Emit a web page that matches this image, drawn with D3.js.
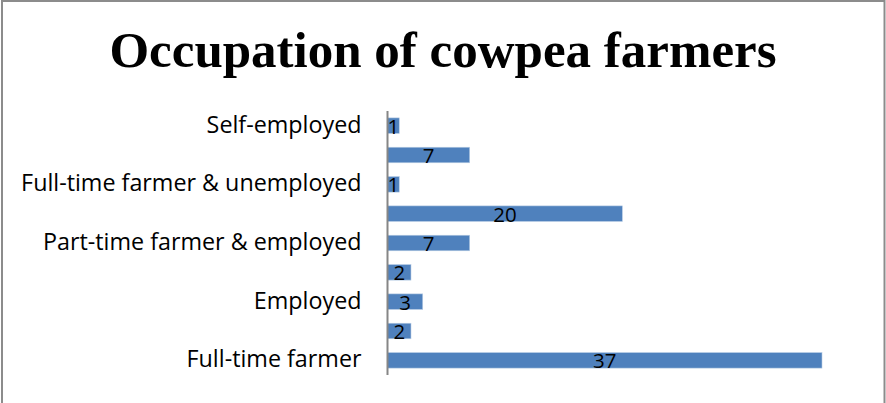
<!DOCTYPE html>
<html>
<head>
<meta charset="utf-8">
<script src="https://cdn.jsdelivr.net/npm/d3@7"></script>
<style>
  html, body { margin: 0; padding: 0; background: #fff; }
  svg { display: block; }
</style>
</head>
<body>
<svg id="chart" width="886" height="403"></svg>
<script>
// Occupations, bottom to top, with number of farmers in each
const categories = [
  "Full-time farmer",
  "Unemployed",
  "Employed",
  "Part-time farmer",
  "Part-time farmer & employed",
  "Full-time farmer & employed",
  "Full-time farmer & unemployed",
  "Part-time farmer & unemployed",
  "Self-employed"
];
const counts = [37, 2, 3, 2, 7, 20, 1, 7, 1];
// Only every other category is labelled on the axis
const shownLabels = [
  "Full-time farmer",
  "Employed",
  "Part-time farmer & employed",
  "Full-time farmer & unemployed",
  "Self-employed"
];

const svg = d3.select("#chart");
const W = 886, H = 403;

// outer chart frame
svg.append("rect")
  .attr("x", 2).attr("y", 1)
  .attr("width", W - 3.5).attr("height", H + 10)
  .attr("fill", "#fff")
  .attr("stroke", "#8c8c8c").attr("stroke-width", 2);

svg.append("text")
  .attr("x", 443).attr("y", 67)
  .attr("text-anchor", "middle")
  .attr("font-family", "Liberation Serif, serif")
  .attr("font-weight", "bold")
  .attr("font-size", 51)
  .attr("fill", "#000")
  .text("Occupation of cowpea farmers");

const x0 = 387.5;
const x = d3.scaleLinear().domain([0, 37]).range([x0, 822]);
const y = d3.scaleBand()
  .domain(categories.slice().reverse())
  .range([111, 375])
  .paddingInner(0.47)
  .paddingOuter(0.235);

const data = categories.map((c, i) => ({ cat: c, value: counts[i] }));

svg.selectAll("rect.bar")
  .data(data)
  .join("rect")
  .attr("class", "bar")
  .attr("x", x0)
  .attr("y", d => y(d.cat))
  .attr("width", d => x(d.value) - x0)
  .attr("height", y.bandwidth())
  .attr("fill", "#4f81bd")
  .attr("stroke", "#b9cde5")
  .attr("stroke-width", 0.6);

// category axis
const axis = d3.axisLeft(y)
  .tickSize(0)
  .tickPadding(26)
  .tickFormat(d => shownLabels.includes(d) ? d : "");
const gAxis = svg.append("g")
  .attr("transform", `translate(${x0},0)`)
  .call(axis);
gAxis.select(".domain")
  .attr("stroke", "#868686").attr("stroke-width", 2)
  .attr("d", `M0,111V375`);
gAxis.selectAll("text")
  .attr("font-family", "Open Sans, sans-serif")
  .attr("font-size", 23.3)
  .attr("fill", "#000")
  .attr("dy", "0.3em");

// value labels centred on each bar
svg.selectAll("text.val")
  .data(data)
  .join("text")
  .attr("class", "val")
  .attr("x", d => (x0 + x(d.value)) / 2)
  .attr("y", d => y(d.cat) + y.bandwidth() / 2 + 8)
  .attr("text-anchor", "middle")
  .attr("font-family", "Open Sans, sans-serif")
  .attr("font-size", 20.5)
  .attr("fill", "#000")
  .text(d => d.value);
</script>
</body>
</html>
